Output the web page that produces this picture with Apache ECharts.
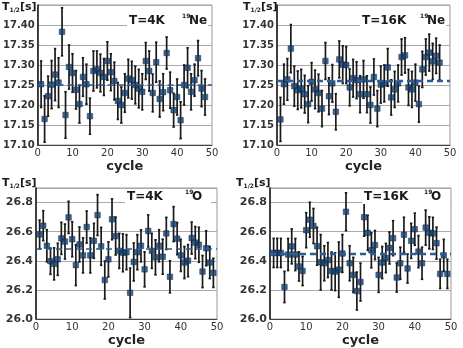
<!DOCTYPE html>
<html>
<head>
<meta charset="utf-8">
<script src="https://cdn.jsdelivr.net/npm/echarts@6/dist/echarts.min.js"></script>
<style>
  html, body { margin: 0; padding: 0; background: #fff; }
  #chart { width: 463px; height: 348px; }
</style>
</head>
<body>
<div id="chart"></div>
<script>
var ne4Val = [17.252,17.165,17.222,17.251,17.276,17.256,17.383,17.175,17.295,17.280,
  17.238,17.202,17.270,17.252,17.172,17.285,17.289,17.280,17.270,17.310,
  17.282,17.260,17.210,17.200,17.230,17.266,17.262,17.250,17.241,17.233,
  17.310,17.285,17.230,17.307,17.215,17.232,17.330,17.237,17.187,17.220,
  17.162,17.250,17.293,17.233,17.262,17.317,17.241,17.220];
var ne4Err = [0.058,0.058,0.050,0.060,0.065,0.062,0.060,0.058,0.055,0.048,
  0.048,0.047,0.048,0.050,0.045,0.050,0.046,0.047,0.046,0.048,
  0.046,0.047,0.046,0.045,0.048,0.048,0.047,0.047,0.048,0.045,
  0.046,0.050,0.047,0.050,0.045,0.046,0.040,0.045,0.042,0.045,
  0.046,0.050,0.050,0.045,0.040,0.044,0.045,0.045];
var ne4Mean = 17.252;

var ne16Val = [17.164,17.252,17.264,17.341,17.247,17.237,17.241,17.227,17.202,17.258,
  17.239,17.230,17.191,17.310,17.222,17.254,17.183,17.314,17.301,17.300,
  17.244,17.267,17.262,17.227,17.264,17.227,17.200,17.270,17.191,17.251,
  17.254,17.294,17.219,17.239,17.254,17.320,17.324,17.244,17.239,17.256,
  17.202,17.289,17.320,17.331,17.309,17.323,17.306];
var ne16Err = [0.055,0.050,0.052,0.060,0.050,0.048,0.048,0.047,0.046,0.048,
  0.048,0.047,0.045,0.046,0.046,0.047,0.045,0.046,0.047,0.046,
  0.046,0.047,0.046,0.046,0.047,0.046,0.045,0.045,0.045,0.046,
  0.046,0.047,0.044,0.045,0.046,0.045,0.044,0.045,0.045,0.046,
  0.045,0.045,0.045,0.046,0.045,0.044,0.044];
var ne16Mean = 17.258;

var o4Val = [26.581,26.641,26.503,26.397,26.379,26.410,26.554,26.532,26.698,26.548,
  26.370,26.512,26.437,26.632,26.437,26.537,26.714,26.499,26.268,26.410,
  26.685,26.570,26.468,26.455,26.459,26.180,26.392,26.459,26.503,26.341,
  26.605,26.468,26.424,26.503,26.428,26.588,26.290,26.652,26.552,26.437,
  26.388,26.401,26.556,26.525,26.510,26.326,26.486,26.388,26.317];
var o4Err = [0.098,0.103,0.110,0.090,0.110,0.110,0.110,0.120,0.110,0.120,
  0.140,0.120,0.120,0.110,0.120,0.120,0.140,0.130,0.130,0.120,
  0.140,0.130,0.120,0.130,0.120,0.170,0.130,0.120,0.110,0.120,
  0.110,0.120,0.120,0.110,0.120,0.110,0.110,0.120,0.110,0.110,
  0.110,0.110,0.110,0.110,0.120,0.110,0.120,0.110,0.100];
var o4Mean = 26.477;

var o16Val = [26.454,26.454,26.454,26.220,26.443,26.499,26.443,26.361,26.330,26.610,
  26.682,26.639,26.500,26.390,26.383,26.405,26.330,26.325,26.339,26.450,
  26.737,26.383,26.303,26.192,26.254,26.699,26.592,26.472,26.508,26.303,
  26.388,26.419,26.488,26.555,26.285,26.383,26.579,26.347,26.537,26.617,
  26.463,26.383,26.628,26.592,26.588,26.521,26.310,26.437,26.310];
var o16Err = [0.100,0.100,0.100,0.107,0.110,0.120,0.110,0.100,0.100,0.120,
  0.120,0.120,0.130,0.190,0.120,0.120,0.130,0.130,0.190,0.130,
  0.130,0.120,0.120,0.130,0.130,0.130,0.120,0.120,0.100,0.120,
  0.110,0.100,0.110,0.120,0.100,0.110,0.120,0.100,0.120,0.110,
  0.110,0.110,0.120,0.110,0.110,0.110,0.100,0.110,0.100];
var o16Mean = 26.448;

var yTicksTop = [17.10, 17.15, 17.20, 17.25, 17.30, 17.35, 17.40];
var yTicksBottom = [26.0, 26.2, 26.4, 26.6, 26.8];

var panels = [
  {vals: ne4Val,  errs: ne4Err,  mean: ne4Mean,  temp: 'T=4K',  iso: 'Ne', ticks: yTicksTop,    dash: 1.6},
  {vals: ne16Val, errs: ne16Err, mean: ne16Mean, temp: 'T=16K', iso: 'Ne', ticks: yTicksTop,    dash: 2.4},
  {vals: o4Val,   errs: o4Err,   mean: o4Mean,   temp: 'T=4K',  iso: 'O',  ticks: yTicksBottom, dash: 1.6},
  {vals: o16Val,  errs: o16Err,  mean: o16Mean,  temp: 'T=16K', iso: 'O',  ticks: yTicksBottom, dash: 2.4}
];

var grids = [
  {left: 36,  top: 5,   width: 176, height: 140},
  {left: 277, top: 5,   width: 173, height: 140},
  {left: 36,  top: 188, width: 181, height: 135},
  {left: 270, top: 188, width: 181, height: 135}
];

// label box: left x, top y, offset of the "19" from the box start
var tags = [
  {x: 127, y: 13, sup: 55},
  {x: 360, y: 13, sup: 60},
  {x: 125, y: 189, sup: 60},
  {x: 362, y: 189, sup: 62}
];

var FONT = 'DejaVu Sans';

function errBar(params, api){
  var x = api.value(0), y = api.value(1), e = api.value(2);
  var hi = api.coord([x, y + e]), lo = api.coord([x, y - e]);
  var cs = params.coordSys;
  var top = Math.max(hi[1], cs.y), bot = Math.min(lo[1], cs.y + cs.height);
  var cap = 1.2;
  var st = {stroke: '#1a1a1a', lineWidth: 1.7};
  return {type: 'group', children: [
    {type: 'line', shape: {x1: hi[0], y1: top, x2: lo[0], y2: bot}, style: st},
    {type: 'line', shape: {x1: hi[0]-cap, y1: top, x2: hi[0]+cap, y2: top}, style: st},
    {type: 'line', shape: {x1: lo[0]-cap, y1: bot, x2: lo[0]+cap, y2: bot}, style: st}
  ]};
}

function txt(x, y, s, size, z){
  return {type: 'text', x: x, y: y, z: z || 100,
    style: {text: s, fontFamily: FONT, fontWeight: 'bold', fontSize: size, fill: '#1a1a1a',
      verticalAlign: 'top', align: 'left'}};
}

var xAxes = [], yAxes = [], series = [], graphics = [];

panels.forEach(function(p, i){
  var isTop = i < 2;
  var t = p.ticks;
  var step = t[1] - t[0];
  var last = t[t.length - 1];
  xAxes.push({
    gridIndex: i, type: 'value', min: 0, max: 50, interval: 10,
    name: 'cycle', nameLocation: 'middle', nameGap: 15,
    nameTextStyle: {fontFamily: FONT, fontWeight: 'bold', fontSize: 13, color: '#222'},
    axisLine: {lineStyle: {color: '#444', width: 1}},
    axisTick: {show: false},
    splitLine: {show: false},
    axisLabel: {fontFamily: FONT, fontSize: 10, color: '#333', margin: 3}
  });
  yAxes.push({
    gridIndex: i, type: 'value',
    min: t[0], max: isTop ? 17.45 : 26.9, interval: step,
    axisLine: {show: true, lineStyle: {color: '#111', width: 1.5}},
    axisTick: {show: false},
    splitLine: {lineStyle: {color: '#aaa', width: 1}},
    axisLabel: {
      fontFamily: FONT, fontWeight: 'bold', fontSize: isTop ? 10 : 11, color: '#333', margin: 3,
      showMaxLabel: false,
      formatter: function(v){ return v > last + step / 10 ? '' : v.toFixed(isTop ? 2 : 1); }
    }
  });

  var pts = p.vals.map(function(v, k){ return [k + 1, v, p.errs[k]]; });

  series.push({
    type: 'custom', xAxisIndex: i, yAxisIndex: i, clip: true,
    renderItem: errBar, data: pts, z: 3,
    markLine: {
      silent: true, symbol: 'none', label: {show: false},
      lineStyle: {type: [6, 4], color: '#2a5d99', width: p.dash},
      data: [{yAxis: p.mean}]
    }
  });
  series.push({
    type: 'scatter', xAxisIndex: i, yAxisIndex: i, symbol: 'rect', symbolSize: 5.5,
    itemStyle: {color: '#17406e', borderColor: '#0b2648', borderWidth: 0.6},
    data: pts, z: 4
  });

  var g = grids[i];
  // y axis title T1/2[s]
  var tx = g.left - 34, ty = isTop ? 2 : 178;
  graphics.push(txt(tx, ty, 'T', 11));
  graphics.push(txt(tx + 7.5, ty + 5, '1/2', 6));
  graphics.push(txt(tx + 18, ty, '[s]', 11));

  // panel label, white box hides the top gridline behind it
  var tg = tags[i];
  graphics.push({type: 'rect', z: 90, shape: {x: tg.x, y: tg.y, width: tg.sup + 26, height: 15},
    style: {fill: '#fff'}});
  graphics.push(txt(tg.x + 2, tg.y + 2, p.temp, 12));
  graphics.push(txt(tg.x + tg.sup, tg.y, '19', 6));
  graphics.push(txt(tg.x + tg.sup + 7, tg.y + 2, p.iso, 12));
});

var chart = echarts.init(document.getElementById('chart'));
chart.setOption({
  animation: false,
  backgroundColor: '#fff',
  grid: grids.map(function(g){
    return {left: g.left, top: g.top, width: g.width, height: g.height,
      show: true, borderColor: '#999', borderWidth: 1, backgroundColor: 'transparent'};
  }),
  xAxis: xAxes,
  yAxis: yAxes,
  series: series,
  graphic: graphics
});
</script>
</body>
</html>
